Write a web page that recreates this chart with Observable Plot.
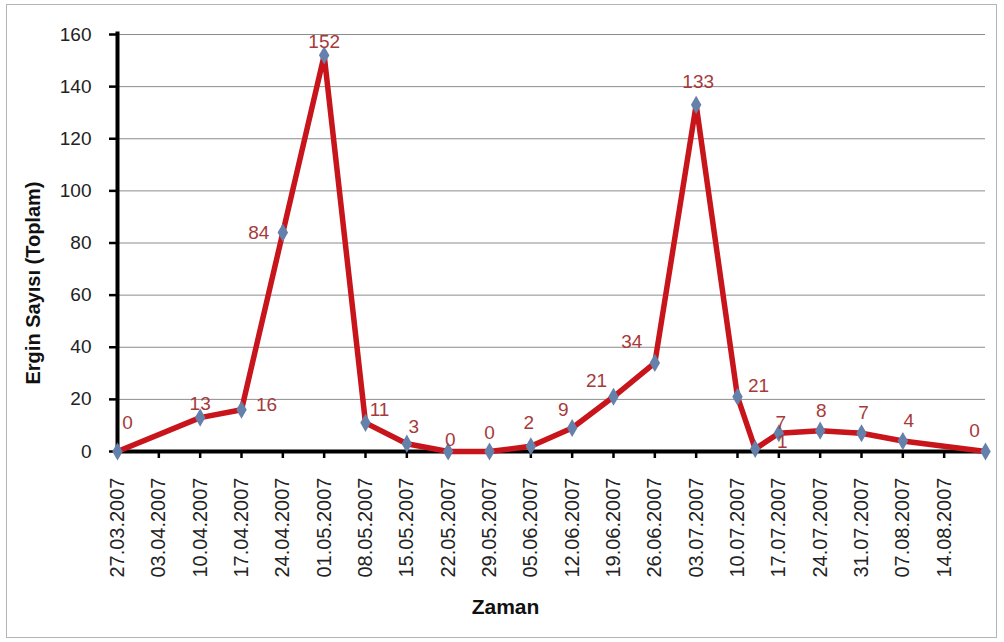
<!DOCTYPE html>
<html><head><meta charset="utf-8">
<script src="https://cdn.jsdelivr.net/npm/d3@7"></script>
<script src="https://cdn.jsdelivr.net/npm/@observablehq/plot@0.6"></script>
<style>
body{margin:0;background:#fff;}
#wrap{position:relative;width:1004px;height:642px;overflow:hidden;}
#frame{position:absolute;left:6px;top:4px;width:991px;height:634px;border:1px solid #b5b5b5;box-sizing:border-box;pointer-events:none;}
</style></head><body><div id="wrap"><div id="chart"></div><div id="frame"></div></div>
<script>
const tickLabels = ["27.03.2007","03.04.2007","10.04.2007","17.04.2007","24.04.2007","01.05.2007","08.05.2007","15.05.2007","22.05.2007","29.05.2007","05.06.2007","12.06.2007","19.06.2007","26.06.2007","03.07.2007","10.07.2007","17.07.2007","24.07.2007","31.07.2007","07.08.2007","14.08.2007"];
const domainEnd = "21.08.2007";
const pointDates = ["27.03.2007","10.04.2007","17.04.2007","24.04.2007","01.05.2007","08.05.2007","15.05.2007","22.05.2007","29.05.2007","05.06.2007","12.06.2007","19.06.2007","26.06.2007","03.07.2007","10.07.2007","13.07.2007","17.07.2007","24.07.2007","31.07.2007","07.08.2007","21.08.2007"];
const pointValues = [0,13,16,84,152,11,3,0,0,2,9,21,34,133,21,1,7,8,7,4,0];
const yTicks = [0,20,40,60,80,100,120,140,160];
const xTitle = "Zaman";
const yTitle = "Ergin Sayısı (Toplam)";

// label placement offsets (pixels), separate from data
const labelDx = [10,0,25,-24,0,14,7,2,0,-2,-9,-17,-23,2,21,27,2,1,2,6,-11];
const labelDy = [-29,-14,-5,0,-13,-13,-17,-12,-19,-23,-18,-16,-21,-23,-11,-7,-10,-20,-20,-20,-21];

const parse = d3.utcParse("%d.%m.%Y");
const fmt = d3.utcFormat("%d.%m.%Y");
const data = pointDates.map((d,i)=>({date: parse(d), value: pointValues[i]}));
const tickDates = tickLabels.map(parse);
const font = "'Liberation Sans', Arial, sans-serif";

const labelMarks = data.map((d,i)=>Plot.text([d], {
  x:"date", y:"value", text:d=>String(d.value),
  dx: labelDx[i], dy: labelDy[i],
  fill:"#a63a3a", fontSize:19
}));

const chart = Plot.plot({
  width: 1004, height: 642,
  marginLeft: 117, marginRight: 19, marginTop: 34, marginBottom: 191,
  style: {fontFamily: font, background: "transparent", color: "#000"},
  x: {type: "utc", domain: [tickDates[0], parse(domainEnd)]},
  y: {domain: [0,160]},
  marks: [
    Plot.gridY(yTicks.filter(v=>v>0), {stroke: "#8c8c8c", strokeOpacity: 1, strokeWidth: 1}),
    Plot.axisY(yTicks, {tickSize: 8, tickPadding: 18, fontSize: 19, label: null, strokeWidth: 2.5, fill:"#222"}),
    Plot.axisX(tickDates, {tickSize: 7, tickPadding: 19, tickRotate: -90, tickFormat: fmt, fontSize: 20, label: null, strokeWidth: 2.5, fill:"#222"}),
    Plot.ruleY([0], {stroke: "#000", strokeWidth: 4}),
    Plot.ruleX([tickDates[0]], {stroke: "#000", strokeWidth: 4, y1: 0, y2: 161}),
    Plot.line(data, {x:"date", y:"value", curve:"linear", stroke:"#c8141b", strokeWidth:5.5, strokeLinejoin:"round", strokeLinecap:"round"}),
    Plot.dot(data, {x:"date", y:"value", symbol:"diamond", r:5.5, fill:"#6580aa", stroke:"none"}),
    ...labelMarks,
    Plot.text([xTitle], {text:d=>d, frameAnchor:"bottom", dx:-46, dy:162, fontWeight:"bold", fontSize:21, fill:"#111"}),
    Plot.text([yTitle], {text:d=>d, frameAnchor:"left", textAnchor:"middle", dx:-84, dy:40, rotate:-90, fontWeight:"bold", fontSize:20, fill:"#111"})
  ]
});
document.getElementById("chart").appendChild(chart);
</script>
</body></html>
